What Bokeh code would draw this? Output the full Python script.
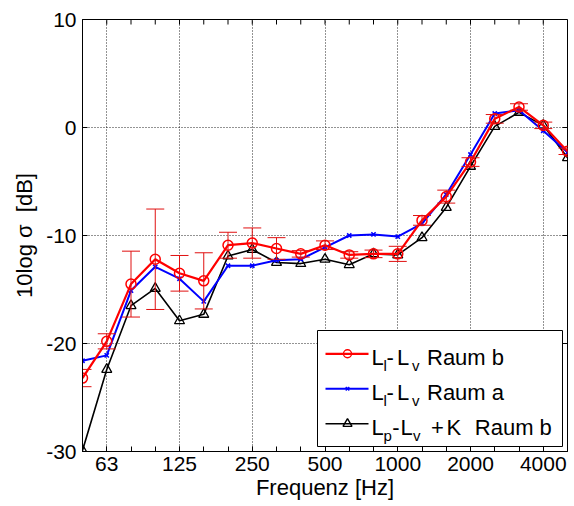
from bokeh.plotting import figure
from bokeh.models import FixedTicker, Range1d, Whisker, TeeHead, ColumnDataSource
from bokeh.core.properties import value
from bokeh.embed import file_html
from bokeh.resources import INLINE

# ---- data -------------------------------------------------------------
freqs = [50, 63, 80, 100, 125, 160, 200, 250, 315, 400, 500, 630, 800,
         1000, 1250, 1600, 2000, 2500, 3150, 4000, 5000]
tick_freqs = [63, 125, 250, 500, 1000, 2000, 4000]
y_ticks = [-30, -20, -10, 0, 10]

raum_b = [-23.2, -19.8, -14.5, -12.2, -13.5, -14.2, -10.9, -10.7, -11.2, -11.7,
          -10.9, -11.8, -11.7, -11.7, -8.6, -6.4, -3.2, 0.8, 1.9, 0.2, -2.2]
raum_b_err = [0.8, 0.7, 3.05, 4.65, 1.65, 2.6, 1.2, 1.4, 1.0, 0.3, 0.4, 0.3,
              0.35, 0.7, 0.45, 0.6, 0.4, 0.4, 0.3, 0.3, 0.3]
raum_a = [-21.6, -21.1, -15.1, -12.9, -14.0, -16.1, -12.8, -12.8, -12.3, -12.2,
          -11.1, -10.0, -9.9, -10.1, -8.9, -6.2, -2.5, 1.3, 1.6, -0.3, -2.3]
lp_k_b = [-29.9, -22.4, -16.5, -14.9, -17.9, -17.3, -11.9, -11.3, -12.5, -12.6,
          -12.2, -12.7, -11.7, -11.8, -10.2, -7.4, -3.6, 0.1, 1.4, 0.2, -2.8]

x_label = "Frequenz [Hz]"
y_label = "10log σ\u00a0 [dB]"

# legend texts: (text, is_subscript, x offset in px from text origin)
legend_texts = [
    [("L", False, 0), ("l", True, 12), ("-", False, 15), ("L", False, 25.4),
     ("v", True, 40.5), ("Raum b", False, 55.5)],
    [("L", False, 0), ("l", True, 12), ("-", False, 15), ("L", False, 25.4),
     ("v", True, 40.5), ("Raum a", False, 55.5)],
    [("L", False, 0), ("p", True, 12), ("-", False, 20.8), ("L", False, 29.1),
     ("v", True, 41.5), ("+", False, 59.6), ("K", False, 75), ("Raum b", False, 103.3)],
]

# ---- layout constants ------------------------------------------------
FONT = "Liberation Sans"
W, H = 574, 506
BL, BR, BT, BB = 82, 7, 19, 55
FW, FH = W - BL - BR, H - BT - BB
X0, X1 = 0, len(freqs) - 1
Y0, Y1 = -30, 10
TICK = 5


def gx(px):  # frame-relative px -> data x
    return X0 + px / FW * (X1 - X0)


def gy(py):  # frame-relative px from top -> data y
    return Y1 - py / FH * (Y1 - Y0)


xs = list(range(len(freqs)))
tick_idx = [freqs.index(f) for f in tick_freqs]

p = figure(width=W, height=H, x_range=Range1d(X0, X1), y_range=Range1d(Y0, Y1),
           output_backend="svg", toolbar_location=None,
           min_border_left=BL, min_border_right=BR, min_border_top=BT,
           min_border_bottom=BB)
p.background_fill_color = "white"
p.border_fill_color = "white"
p.outline_line_color = "black"
p.outline_line_width = 1
p.outline_line_alpha = 1

xticker = FixedTicker(ticks=tick_idx, minor_ticks=xs)
yticker = FixedTicker(ticks=y_ticks, minor_ticks=[])

for ax in p.xaxis:
    ax.ticker = xticker
    ax.major_label_overrides = {i: str(f) for i, f in zip(tick_idx, tick_freqs)}
    ax.axis_label = x_label
    ax.major_label_standoff = 5
    ax.axis_label_standoff = 1
for ax in p.yaxis:
    ax.ticker = yticker
    ax.major_label_overrides = {t: str(t) for t in y_ticks}
    ax.axis_label = y_label
    ax.major_label_standoff = 6
    ax.axis_label_standoff = 6

for ax in list(p.xaxis) + list(p.yaxis):
    ax.major_tick_in = TICK
    ax.major_tick_out = 0
    ax.minor_tick_in = TICK
    ax.minor_tick_out = 0
    ax.major_tick_line_color = "black"
    ax.minor_tick_line_color = "black"
    ax.axis_line_color = "black"
    ax.major_label_text_font = FONT
    ax.major_label_text_font_size = "21px"
    ax.major_label_text_color = "black"
    ax.axis_label_text_font = FONT
    ax.axis_label_text_font_size = "22px"
    ax.axis_label_text_font_style = "normal"
    ax.axis_label_text_color = "black"

for g in (p.xgrid, p.ygrid):
    g.grid_line_color = "black"
    g.grid_line_dash = "1 2"
    g.grid_line_width = 1
    g.grid_line_alpha = 0.85
p.xgrid.ticker = xticker
p.ygrid.ticker = yticker

# mirrored ticks on top and right edges (box style)
p.segment(x0=xs, y0=[Y1] * len(xs), x1=xs, y1=[gy(TICK)] * len(xs),
          line_color="black", line_width=1)
p.segment(x0=[X1] * len(y_ticks), y0=y_ticks, x1=[gx(FW - TICK)] * len(y_ticks),
          y1=y_ticks, line_color="black", line_width=1)

# ---- data marks --------------------------------------------------------
src = ColumnDataSource(dict(
    x=xs, b=raum_b, a=raum_a, k=lp_k_b,
    up=[v + e for v, e in zip(raum_b, raum_b_err)],
    lo=[v - e for v, e in zip(raum_b, raum_b_err)],
))

p.line("x", "k", source=src, line_color="black", line_width=1.6)
p.scatter("x", "k", source=src, marker="triangle", size=10, fill_color=None,
          line_color="black", line_width=1.3)

p.line("x", "a", source=src, line_color="#0000ff", line_width=2)
p.scatter("x", "a", source=src, marker="x", size=6, line_color="#0000ff", line_width=1.6)

wh = Whisker(base="x", upper="up", lower="lo", source=src, line_color="#e01010",
             line_width=1, level="glyph",
             upper_head=TeeHead(size=18, line_color="#e01010", line_width=1),
             lower_head=TeeHead(size=18, line_color="#e01010", line_width=1))
p.add_layout(wh)

p.line("x", "b", source=src, line_color="#ff0000", line_width=2.2)
p.scatter("x", "b", source=src, marker="circle", size=10, fill_color=None,
          line_color="#ff0000", line_width=1.5)

# ---- legend (manual, to allow subscripts) ----------------------------
lg_left, lg_right, lg_top, lg_bottom = 235, 480, 311, 427
p.quad(left=gx(lg_left), right=gx(lg_right), top=gy(lg_top), bottom=gy(lg_bottom),
       fill_color="white", line_color="black", line_width=1)

styles = [
    dict(color="#ff0000", marker="circle", size=8, width=2.2),
    dict(color="#0000ff", marker="x", size=5, width=2),
    dict(color="black", marker="triangle", size=9, width=1.6),
]
row_base = [337.7, 372.7, 407.7]   # text baselines, frame-relative px
line_x0, line_x1, mark_x, text_x = 243, 286, 265, 289

for st, pieces, base in zip(styles, legend_texts, row_base):
    ly = gy(base - 3.4)
    p.line([gx(line_x0), gx(line_x1)], [ly, ly], line_color=st["color"], line_width=st["width"])
    p.scatter([gx(mark_x)], [ly], marker=st["marker"], size=st["size"], fill_color=None,
              line_color=st["color"], line_width=1.4)
    for txt, sub, off in pieces:
        p.text([gx(text_x + off)], [gy(base + (8.3 if sub else 0))], text=[txt],
               text_font=value(FONT), text_font_size="15px" if sub else "22px",
               text_color="black", text_baseline="alphabetic", text_align="left")

open("out.html", "w").write(file_html(p, INLINE))
